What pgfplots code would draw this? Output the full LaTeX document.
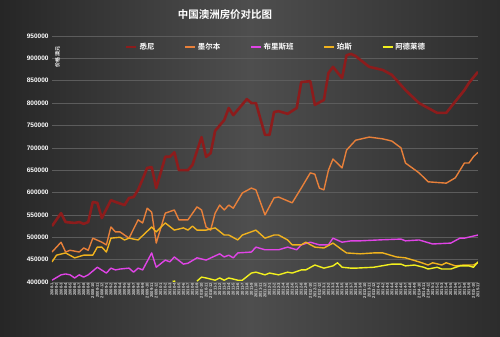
\documentclass[border=0pt]{standalone}
\usepackage{pgfplots}
\pgfplotsset{compat=1.18}
\usepackage{fontspec}
\setmainfont{Liberation Sans}
\newfontfamily\cjk{Noto Sans CJK SC}[BoldFont={Noto Sans CJK SC Bold}]
\definecolor{syd}{HTML}{8C1C1C}
\definecolor{mel}{HTML}{E8803A}
\definecolor{bri}{HTML}{E044E6}
\definecolor{per}{HTML}{F0B21E}
\definecolor{ade}{HTML}{F2F01E}
\definecolor{bgA}{HTML}{262626}
\definecolor{bgB}{HTML}{4E4E4E}
\definecolor{bgC}{HTML}{2C2C2C}
\definecolor{gridc}{HTML}{5C5C5C}
\definecolor{xlab}{HTML}{D0D0D0}
\begin{document}
\begin{tikzpicture}
\shade[left color=bgA, right color=bgC, middle color=bgB] (-52bp,-55bp) rectangle (448bp,282bp);
\useasboundingbox (-52bp,-55bp) rectangle (448bp,282bp);
\node[text=white, font=\cjk\bfseries\fontsize{10.5}{12}\selectfont] at (173bp,267bp) {中国澳洲房价对比图};
\begin{axis}[
  scale only axis, width=426bp, height=246bp,
  xmin=0, xmax=94, ymin=400000, ymax=950000,
  ytick={400000,450000,...,950000},
  xtick={0,...,94},
  scaled y ticks=false,
  ymajorgrids, grid style={draw=gridc, line width=0.6pt},
  axis line style={draw=none}, major tick length=0pt,
  y tick label style={/pgf/number format/fixed, /pgf/number format/1000 sep={}, /pgf/number format/assume math mode=true,
     font=\bfseries\fontsize{6.5}{7}\selectfont, text=white},
  x tick label style={rotate=90, anchor=east, font=\bfseries\fontsize{4.2}{4.2}\selectfont, text=xlab, inner sep=0.6pt},
  xticklabel={\pgfmathtruncatemacro\yr{2008+floor(\tick/12)}\pgfmathtruncatemacro\mo{mod(\tick,12)+1}\yr-\mo},
  legend columns=5,
  legend style={at={(0.526,0.955)}, anchor=center, draw=none, fill=none, text=white,
     font=\cjk\bfseries\fontsize{7.5}{8}\selectfont, /tikz/every even column/.append style={column sep=28bp}},
  legend image code/.code={\draw[#1] (0bp,0bp) -- (10bp,0bp);},
]
\addplot[syd, line width=2.6pt, line join=round] coordinates {
(0,525000)(2,554000)(3,534000)(5,532000)(6,534000)(7,530000)(8,534000)(9,579000)(10,577000)(11,543000)(13,583000)(14,579000)(16,572000)(17,588000)(18,590000)(19,606000)(20,630000)(21,655000)(22,657000)(23,610000)(25,680000)(26,680000)(27,690000)(28,650000)(30,650000)(31,662000)(33,724000)(34,680000)(35,688000)(36,738000)(38,762000)(39,789000)(40,773000)(43,809000)(44,800000)(45,800000)(47,729000)(48,729000)(49,780000)(50,782000)(52,776000)(54,789000)(55,847000)(57,849000)(58,796000)(60,807000)(61,867000)(62,881000)(64,856000)(65,907000)(66,910000)(67,905000)(70,881000)(73,874000)(75,863000)(78,829000)(81,800000)(85,778000)(87,778000)(88,791000)(91,829000)(92,845000)(94,870000)};
\addlegendentry{悉尼}
\addplot[mel, line width=1.4pt, line join=round] coordinates {
(0,467000)(2,489000)(3,467000)(4,471000)(6,467000)(7,476000)(8,471000)(9,498000)(11,489000)(12,483000)(13,523000)(14,512000)(15,512000)(17,498000)(19,539000)(20,532000)(21,565000)(22,556000)(23,487000)(25,554000)(27,561000)(28,539000)(30,539000)(32,568000)(33,561000)(34,523000)(35,516000)(36,554000)(37,572000)(38,561000)(39,572000)(40,565000)(42,599000)(44,610000)(45,606000)(47,550000)(49,588000)(50,590000)(53,577000)(55,610000)(57,644000)(58,641000)(59,610000)(60,606000)(61,650000)(62,675000)(64,655000)(65,695000)(67,717000)(70,724000)(73,720000)(75,715000)(77,700000)(78,666000)(81,644000)(83,624000)(87,621000)(89,633000)(91,666000)(92,666000)(93,680000)(94,690000)};
\addlegendentry{墨尔本}
\addplot[bri, line width=1.4pt, line join=round] coordinates {
(0,404000)(2,416000)(3,418000)(4,416000)(5,409000)(6,416000)(7,411000)(8,416000)(10,433000)(12,420000)(13,431000)(14,427000)(15,429000)(17,431000)(18,422000)(19,431000)(20,427000)(22,465000)(23,433000)(25,449000)(26,445000)(27,456000)(29,440000)(30,442000)(32,454000)(34,449000)(37,463000)(38,456000)(39,460000)(40,454000)(41,465000)(44,467000)(45,478000)(47,472000)(50,472000)(52,478000)(54,472000)(55,483000)(57,489000)(59,483000)(61,483000)(62,498000)(64,489000)(66,492000)(68,492000)(72,494000)(77,496000)(78,492000)(81,494000)(84,485000)(88,487000)(90,498000)(91,498000)(94,505000)};
\addlegendentry{布里斯班}
\addplot[per, line width=1.4pt, line join=round] coordinates {
(0,445000)(1,460000)(3,465000)(5,454000)(7,460000)(9,460000)(10,478000)(11,478000)(12,467000)(13,498000)(15,500000)(16,494000)(17,498000)(19,494000)(22,523000)(23,512000)(25,532000)(27,516000)(29,521000)(30,516000)(31,525000)(32,516000)(34,516000)(36,521000)(38,505000)(39,505000)(41,494000)(42,505000)(45,516000)(47,498000)(49,505000)(50,505000)(52,494000)(53,483000)(55,483000)(56,489000)(58,478000)(60,476000)(62,487000)(64,472000)(65,465000)(68,463000)(71,465000)(73,465000)(76,456000)(78,454000)(81,445000)(83,438000)(84,443000)(86,438000)(87,443000)(89,436000)(91,438000)(93,438000)(94,443000)};
\addlegendentry{珀斯}
\addplot[ade, line width=1.4pt, line join=round] coordinates {
(32,402000)(33,411000)(34,409000)(36,404000)(37,409000)(38,404000)(39,409000)(41,404000)(42,404000)(44,420000)(45,422000)(47,416000)(48,420000)(50,416000)(52,422000)(53,420000)(55,427000)(56,427000)(58,438000)(60,431000)(62,436000)(63,443000)(64,433000)(66,431000)(67,431000)(71,433000)(75,440000)(77,440000)(78,436000)(80,438000)(82,433000)(83,429000)(85,433000)(86,429000)(88,429000)(90,436000)(92,436000)(93,433000)(94,445000)};
\addlegendentry{阿德莱德}
\addplot[ade, line width=1.4pt, forget plot] coordinates {(26.6,401500)(27.2,402000)};
\node[rotate=90, text=white, font=\cjk\bfseries\fontsize{5}{5}\selectfont] at (rel axis cs:0.013,0.915) {价格 澳元};
\end{axis}
\end{tikzpicture}
\end{document}
